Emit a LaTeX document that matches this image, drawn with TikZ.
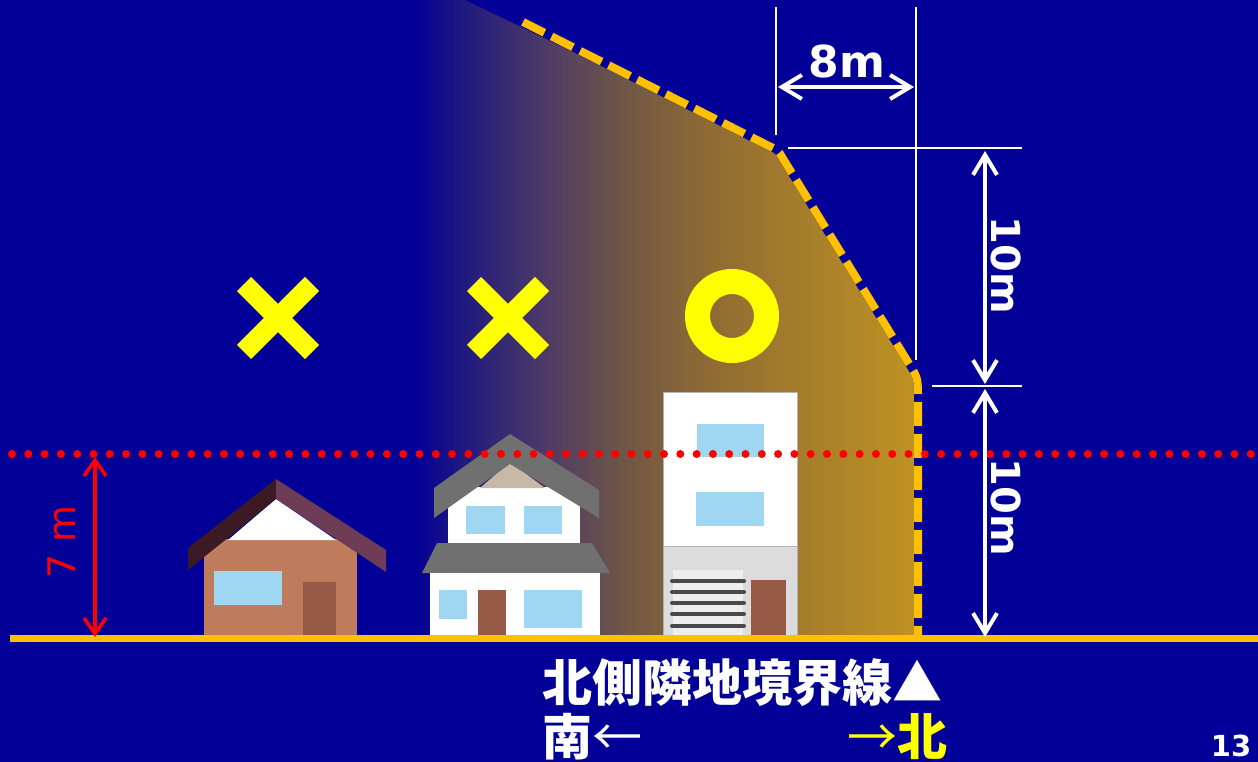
\documentclass[tikz,border=0pt]{standalone}
\usepackage{fontspec}
\setmainfont{DejaVu Sans}
\newfontfamily\cjk{Noto Sans CJK JP}
\usetikzlibrary{arrows.meta}
\definecolor{bg}{RGB}{2,0,150}
\definecolor{gold}{RGB}{255,192,0}
\definecolor{winblue}{RGB}{159,214,242}
\definecolor{doorbrown}{RGB}{150,90,70}
\definecolor{brownbody}{RGB}{190,124,92}
\definecolor{roofdark}{RGB}{60,26,36}
\definecolor{roofmauve}{RGB}{110,60,85}
\definecolor{roofgray}{RGB}{112,112,112}
\definecolor{beige}{RGB}{200,185,166}
\definecolor{lightgray}{RGB}{220,220,220}
\definecolor{shutter}{RGB}{238,238,238}
\definecolor{slat}{RGB}{74,74,74}
\definecolor{dotred}{RGB}{255,0,0}
\definecolor{markyellow}{RGB}{255,255,0}
\pgfdeclarehorizontalshading{sky}{100bp}{rgb(0bp)=(0.008,0,0.588); rgb(25bp)=(0.008,0,0.588); rgb(29.46bp)=(0.118,0.094,0.502); rgb(33.42bp)=(0.204,0.157,0.455); rgb(38.37bp)=(0.314,0.235,0.392); rgb(45.30bp)=(0.431,0.333,0.282); rgb(53.22bp)=(0.549,0.412,0.204); rgb(61.63bp)=(0.635,0.478,0.176); rgb(75bp)=(0.753,0.576,0.137); rgb(100bp)=(0.753,0.576,0.137)}
\tikzset{
  win/.style={fill=winblue},
  doorbox/.style={fill=doorbrown},
  dimline/.style={draw=white, line width=1.5pt},
  dimarrow/.style={draw=white, line width=4pt, {Straight Barb[length=20pt,width=24pt]}-{Straight Barb[length=20pt,width=24pt]}},
  redarrow/.style={draw=dotred, line width=3.5pt, {Straight Barb[length=16pt,width=22pt]}-{Straight Barb[length=16pt,width=22pt]}},
  dimlabel/.style={text=white, font=\bfseries\fontsize{44}{48}\selectfont, inner sep=0pt},
  cjklabel/.style={text=white, font=\cjk\bfseries\fontsize{50}{56}\selectfont, inner sep=0pt},
  xmark/.style={draw=markyellow, line width=20pt},
  slatline/.style={draw=slat, line width=4pt, line cap=round},
}
\begin{document}
\begin{tikzpicture}[x=1pt,y=-1pt]
\fill[bg] (0,0) rectangle (1258,762);
\useasboundingbox (0,0) rectangle (1258,762);
% shaded permitted region
\begin{scope}
\clip (465,0) -- (769,146) .. controls (778,150) .. (782,157) -- (908,362) .. controls (918,378) .. (918,398) -- (918,640) -- (0,640) -- (0,0) -- cycle;
\shade[shading=sky] (415,0) rectangle (920,640);
\end{scope}
% boundary line
\draw[bg, line width=8pt] (523,22) -- (769,146) .. controls (778,150) .. (782,157) -- (908,362) .. controls (918,378) .. (918,398) -- (918,638);
\draw[gold, line width=8pt, dash pattern=on 24pt off 8pt] (523,22) -- (769,146) .. controls (778,150) .. (782,157) -- (908,362) .. controls (918,378) .. (918,398) -- (918,638);
% house 1
\fill[brownbody] (204,539) rectangle (357,638);
\fill[white] (228,540) -- (276,499) -- (336,540) -- cycle;
\fill[roofdark] (188,548) -- (276,479) -- (276,499) -- (188,570) -- cycle;
\fill[roofmauve] (276,479) -- (386,550) -- (386,572) -- (276,499) -- cycle;
\fill[win] (214,571) rectangle (282,605);
\fill[doorbox] (303,582) rectangle (336,638);
% house 2
\fill[white] (448,487) rectangle (580,543);
\fill[beige] (480,488) -- (510,462) -- (545,488) -- cycle;
\fill[roofgray] (434,488) -- (510,434) -- (599,490) -- (599,518) -- (510,464) -- (434,518) -- cycle;
\fill[roofgray] (437,543) -- (592,543) -- (610,573) -- (422,573) -- cycle;
\fill[white] (430,573) rectangle (600,638);
\fill[win] (466,506) rectangle (505,534);
\fill[win] (524,506) rectangle (562,534);
\fill[win] (439,590) rectangle (467,619);
\fill[win] (524,590) rectangle (582,628);
\fill[doorbox] (478,590) rectangle (506,638);
% house 3
\filldraw[fill=white, draw=gray!60, line width=1pt] (663,392) rectangle (797,546);
\filldraw[fill=lightgray, draw=gray!60, line width=1pt] (663,546) rectangle (797,638);
\fill[shutter] (673,570) rectangle (743,638);
\foreach \yy in {581,592,603,614,626} \draw[slatline] (672,\yy) -- (744,\yy);
\fill[doorbox] (751,580) rectangle (786,638);
\fill[win] (697,424) rectangle (764,457);
\fill[win] (696,492) rectangle (764,526);
% ground line
\draw[gold, line width=7pt] (10,638) -- (1258,638);
% red dotted 7m line
\draw[dotred, line width=8pt, line cap=round, dash pattern=on 0pt off 16.3pt] (12,454) -- (1258,454);
% dimension guide lines
\draw[dimline] (776,7) -- (776,135);
\draw[dimline] (916,7) -- (916,360);
\draw[dimline] (788,148) -- (1022,148);
\draw[dimline] (932,386) -- (1022,386);
% arrow end points
\coordinate (w8a) at (778,87);
\coordinate (w8b) at (914,87);
\coordinate (h1a) at (985,151);
\coordinate (h1b) at (985,384);
\coordinate (h2a) at (985,389);
\coordinate (h2b) at (985,637);
\coordinate (r7a) at (95,457);
\coordinate (r7b) at (95,637);
\draw[dimarrow] (w8a) -- (w8b);
\draw[dimarrow] (h1a) -- (h1b);
\draw[dimarrow] (h2a) -- (h2b);
\draw[redarrow] (r7a) -- (r7b);
% labels
\node[dimlabel] (l8) at (847,61) {8m};
\node[dimlabel, rotate=-90, font=\bfseries\fontsize{40}{44}\selectfont] (l10a) at (1006,265) {10m};
\node[dimlabel, rotate=-90, font=\bfseries\fontsize{40}{44}\selectfont] (l10b) at (1006,507) {10m};
\node[text=dotred, font=\fontsize{38}{42}\selectfont, inner sep=0pt, rotate=90] (l7) at (62,542) {7 m};
% marks
\draw[xmark] (244,284) -- (312,352) (244,352) -- (312,284);
\draw[xmark] (474,284) -- (542,352) (474,352) -- (542,284);
\draw[draw=markyellow, line width=25pt] (732,316) circle (34.5);
% bottom texts
\node[cjklabel, anchor=west] (bl) at (542,683) {北側隣地境界線▲};
\node[cjklabel, anchor=west] (south) at (542,737) {南{\mdseries ←}};
\node[cjklabel, anchor=east] (north) at (948,737) {\textcolor{markyellow}{{\mdseries →}北}};
\node[text=white, font=\bfseries\fontsize{29}{32}\selectfont, inner sep=0pt] (pg) at (1231,746) {13};
\end{tikzpicture}
\end{document}
